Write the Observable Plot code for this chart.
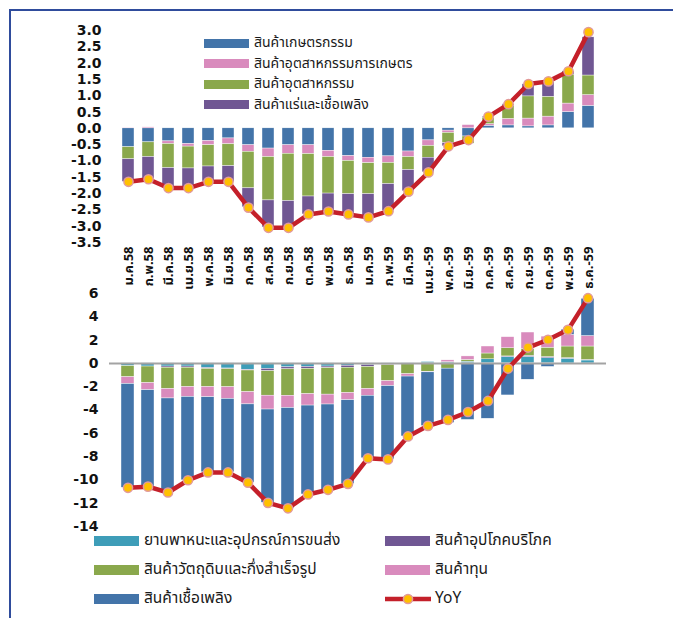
<!DOCTYPE html>
<html>
<head>
<meta charset="utf-8">
<script src="https://cdn.jsdelivr.net/npm/d3@7"></script>
<script src="https://cdn.jsdelivr.net/npm/@observablehq/plot@0.6"></script>
<style>
  body { margin: 0; background: #fff; }
  #wrap { position: relative; width: 673px; height: 618px; overflow: hidden; background: #fff;
          font-family: "Noto Sans Thai", "Loma", "Garuda", "Tahoma", "Noto Sans", sans-serif; }
  #frame { position: absolute; left: 9px; top: 9px; width: 720px; height: 720px; border: 2px solid #2f4c9c; }
  .chart { position: absolute; left: 0; }
  .leg { position: absolute; display: flex; align-items: center; color: #1a1a1a; white-space: nowrap; line-height: 1; }
  .sw { width: 45px; height: 9px; margin-right: 5px; flex: none; }
  .sw2 { width: 45px; height: 10px; margin-right: 5px; flex: none; }
</style>
</head>
<body>
<div id="wrap">
  <div id="frame"></div>
  <div id="top" class="chart" style="top:0px"></div>
  <div id="bottom" class="chart" style="top:280px"></div>
  <div id="legTop"></div>
  <div id="legBottom"></div>
</div>
<script>
// ---------- data ----------
const months = ["ม.ค.58","ก.พ.58","มี.ค.58","เม.ย.58","พ.ค.58","มิ.ย.58","ก.ค.58","ส.ค.58","ก.ย.58","ต.ค.58","พ.ย.58","ธ.ค.58",
                "ม.ค.59","ก.พ.59","มี.ค.59","เม.ย.-59","พ.ค.-59","มิ.ย.-59","ก.ค.-59","ส.ค.-59","ก.ย.-59","ต.ค.-59","พ.ย.-59","ธ.ค.-59"];

// top panel (export-side groups)
const topSeries = ["สินค้าเกษตรกรรม","สินค้าอุตสาหกรรมการเกษตร","สินค้าอุตสาหกรรม","สินค้าแร่และเชื้อเพลิง"];
const topColors = ["#4374a9","#d98bbd","#8aa84c","#705793"];
const agriculture   = [-0.58,-0.43,-0.40,-0.48,-0.39,-0.31,-0.52,-0.62,-0.52,-0.52,-0.69,-0.85,-0.90,-0.86,-0.71,-0.37,-0.07,-0.25,0.08,0.09,0.06,0.09,0.50,0.69];
const agroIndustry  = [0.02,0.03,-0.08,-0.08,-0.13,-0.18,-0.20,-0.26,-0.26,-0.27,-0.19,-0.15,-0.17,-0.20,-0.17,-0.17,-0.07,0.10,0.05,0.20,0.24,0.27,0.26,0.33];
const industry      = [-0.37,-0.45,-0.74,-0.67,-0.65,-0.67,-1.12,-1.33,-1.45,-1.30,-1.12,-1.02,-0.95,-0.65,-0.40,-0.36,-0.31,-0.22,0.20,0.41,0.68,0.61,0.89,0.60];
const miningFuel    = [-0.69,-0.68,-0.61,-0.61,-0.46,-0.49,-0.58,-0.83,-0.81,-0.55,-0.55,-0.62,-0.70,-0.82,-0.65,-0.45,-0.10,0.00,0.03,0.04,0.37,0.45,0.10,1.17];
const topYoY        = [-1.64,-1.56,-1.83,-1.83,-1.64,-1.64,-2.43,-3.05,-3.05,-2.64,-2.55,-2.64,-2.73,-2.54,-1.94,-1.35,-0.55,-0.36,0.36,0.74,1.36,1.44,1.75,2.95];
const topTicks = [-3.5,-3.0,-2.5,-2.0,-1.5,-1.0,-0.5,0.0,0.5,1.0,1.5,2.0,2.5,3.0];

// bottom panel (import-side groups)
const botSeries = ["ยานพาหนะและอุปกรณ์การขนส่ง","สินค้าอุปโภคบริโภค","สินค้าวัตถุดิบและกึ่งสำเร็จรูป","สินค้าทุน","สินค้าเชื้อเพลิง"];
const botColors = ["#3e9db8","#705793","#8aa84c","#d98bbd","#4374a9"];
const vehicles     = [-0.24,-0.27,-0.27,-0.27,-0.40,-0.44,-0.54,-0.47,-0.34,-0.30,-0.27,-0.20,-0.15,-0.05,-0.05,0.12,0.10,0.15,0.35,0.55,0.55,0.45,0.40,0.25];
const consumer     = [0.00,0.00,-0.10,-0.10,-0.07,-0.05,-0.07,-0.20,-0.17,-0.17,-0.14,-0.17,-0.15,-0.10,-0.03,0.00,0.00,0.00,0.00,0.05,0.10,0.10,0.05,0.05];
const rawMaterials = [-0.95,-1.42,-1.83,-1.66,-1.56,-1.56,-1.86,-2.10,-2.27,-2.17,-2.27,-2.17,-1.90,-1.38,-0.85,-0.72,-0.45,0.15,0.50,0.70,0.60,0.80,1.00,1.15];
const capital      = [-0.58,-0.61,-0.81,-0.85,-0.88,-1.00,-1.05,-1.19,-1.05,-0.98,-0.85,-0.62,-0.58,-0.42,-0.20,-0.05,0.16,0.30,0.60,0.95,1.40,0.95,1.00,0.90];
const fuel         = [-8.90,-8.27,-8.07,-7.15,-6.44,-6.30,-6.71,-8.00,-8.61,-7.63,-7.32,-7.18,-5.36,-6.29,-5.14,-4.60,-4.66,-4.85,-4.75,-2.75,-1.40,-0.30,0.45,3.20];
const botYoY       = [-10.68,-10.58,-11.08,-10.03,-9.36,-9.36,-10.24,-11.97,-12.44,-11.25,-10.85,-10.34,-8.14,-8.24,-6.27,-5.36,-4.85,-4.17,-3.22,-0.44,1.36,2.03,2.88,5.60];
const botTicks = [-14,-12,-10,-8,-6,-4,-2,0,2,4,6];

// ---------- tables ----------
const topValues = [agriculture, agroIndustry, industry, miningFuel];
const topRows = [];
topSeries.forEach((s, k) => months.forEach((m, i) => topRows.push({month: m, series: s, value: topValues[k][i]})));
const topLine = months.map((m, i) => ({month: m, value: topYoY[i]}));

const botValues = [vehicles, consumer, rawMaterials, capital, fuel];
const botRows = [];
botSeries.forEach((s, k) => months.forEach((m, i) => botRows.push({month: m, series: s, value: botValues[k][i]})));
const botLine = months.map((m, i) => ({month: m, value: botYoY[i]}));

const lineColor = "#c4202a", dotFill = "#ffc000", dotStroke = "#e29a9a";
const tickFont = "DejaVu Sans, Verdana, sans-serif";
const thaiFont = "'Noto Sans Thai', Loma, Garuda, Tahoma, 'Noto Sans', sans-serif";

// ---------- top chart ----------
const topPlot = Plot.plot({
  width: 673, height: 290,
  marginTop: 30, marginBottom: 48, marginLeft: 113, marginRight: 71,
  x: {domain: months, padding: 0.4, axis: null},
  y: {domain: [-3.5, 3.0], axis: null},
  color: {domain: topSeries, range: topColors},
  style: {background: "transparent", overflow: "visible"},
  marks: [
    Plot.axisY({ticks: topTicks, tickFormat: d => d.toFixed(1), tickSize: 0, tickPadding: 12, label: null,
                fontSize: 14, fontWeight: "bold", fontFamily: tickFont, fill: "#111"}),
    Plot.axisX({tickRotate: -90, tickSize: 0, tickPadding: 4, label: null,
                fontSize: 13, fontWeight: "bold", fontFamily: thaiFont, fill: "#111"}),
    Plot.barY(topRows, {x: "month", y: "value", fill: "series", stroke: "#fff", strokeWidth: 0.4}),
    Plot.line(topLine, {x: "month", y: "value", stroke: lineColor, strokeWidth: 4.5, strokeLinejoin: "round"}),
    Plot.dot(topLine, {x: "month", y: "value", r: 4.6, fill: dotFill, stroke: dotStroke, strokeWidth: 1.5})
  ]
});
document.getElementById("top").appendChild(topPlot);

// ---------- bottom chart ----------
const botPlot = Plot.plot({
  width: 673, height: 260,
  marginTop: 13, marginBottom: 14, marginLeft: 109, marginRight: 67,
  x: {domain: months, padding: 0.36, axis: null},
  y: {domain: [-14, 6], axis: null},
  color: {domain: botSeries, range: botColors},
  style: {background: "transparent", overflow: "visible"},
  marks: [
    Plot.axisY({ticks: botTicks, tickFormat: d => String(d), tickSize: 0, tickPadding: 11, label: null,
                fontSize: 14, fontWeight: "bold", fontFamily: tickFont, fill: "#111"}),
    Plot.barY(botRows, {x: "month", y: "value", fill: "series", stroke: "#fff", strokeWidth: 0.4}),
    Plot.ruleY([0], {stroke: "#a3a3a3", strokeWidth: 2}),
    Plot.line(botLine, {x: "month", y: "value", stroke: lineColor, strokeWidth: 4.5, strokeLinejoin: "round"}),
    Plot.dot(botLine, {x: "month", y: "value", r: 4.6, fill: dotFill, stroke: dotStroke, strokeWidth: 1.5})
  ]
});
document.getElementById("bottom").appendChild(botPlot);

// ---------- legends ----------
const legTop = document.getElementById("legTop");
topSeries.forEach((s, i) => {
  const d = document.createElement("div");
  d.className = "leg";
  d.style.left = "204px";
  d.style.top = (35 + i * 20.5) + "px";
  d.style.height = "16px";
  d.style.fontSize = "14px";
  d.innerHTML = `<span class="sw" style="background:${topColors[i]}"></span><span>${s}</span>`;
  legTop.appendChild(d);
});

const legBottom = document.getElementById("legBottom");
const botLegendItems = [
  {name: botSeries[0], color: botColors[0], col: 0, row: 0},
  {name: botSeries[1], color: botColors[1], col: 1, row: 0},
  {name: botSeries[2], color: botColors[2], col: 0, row: 1},
  {name: botSeries[3], color: botColors[3], col: 1, row: 1},
  {name: botSeries[4], color: botColors[4], col: 0, row: 2}
];
botLegendItems.forEach(it => {
  const d = document.createElement("div");
  d.className = "leg";
  d.style.left = (it.col === 0 ? 94 : 385) + "px";
  d.style.top = (531 + it.row * 29) + "px";
  d.style.height = "20px";
  d.style.fontSize = "15.5px";
  d.innerHTML = `<span class="sw2" style="background:${it.color}"></span><span>${it.name}</span>`;
  legBottom.appendChild(d);
});
{
  const d = document.createElement("div");
  d.className = "leg";
  d.style.left = "385px";
  d.style.top = (531 + 2 * 29) + "px";
  d.style.height = "20px";
  d.style.fontSize = "15.5px";
  d.innerHTML = `<svg width="46" height="12" style="margin-right:4px;flex:none"><line x1="0" y1="6" x2="46" y2="6" stroke="${lineColor}" stroke-width="4.5"/><circle cx="23" cy="6" r="4.6" fill="${dotFill}" stroke="${dotStroke}" stroke-width="1.5"/></svg><span>YoY</span>`;
  legBottom.appendChild(d);
}
</script>
</body>
</html>
